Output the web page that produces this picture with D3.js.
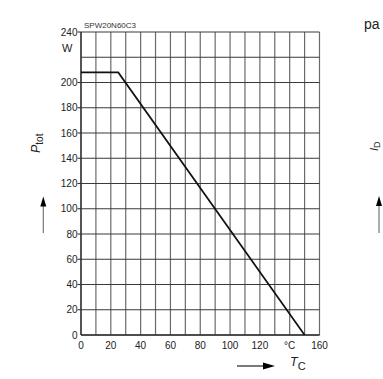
<!DOCTYPE html>
<html><head><meta charset="utf-8">
<script src="https://cdn.jsdelivr.net/npm/d3@7"></script>
<style>html,body{margin:0;padding:0;background:#fff;}svg{display:block;}</style>
</head><body>
<script>
const tempC = [0, 25, 150];
const powerW = [208, 208, 0];
const xTicks = [0, 20, 40, 60, 80, 100, 120, 140, 160];
const xTickLabels = ["0", "20", "40", "60", "80", "100", "120", "°C", "160"];
const yTicks = [0, 20, 40, 60, 80, 100, 120, 140, 160, 180, 200, 240];
const xGrid = d3.range(0, 161, 10);
const yGrid = d3.range(0, 241, 20);

const W = 383, H = 379;
const svg = d3.select("body").append("svg").attr("width", W).attr("height", H);
const font = "'Liberation Sans', Arial, sans-serif";
const x = d3.scaleLinear().domain([0, 160]).range([81, 319.5]);
const y = d3.scaleLinear().domain([0, 240]).range([335, 32]);

const g = svg.append("g");
g.selectAll(".vg").data(xGrid).enter().append("line")
  .attr("x1", d => x(d)).attr("x2", d => x(d)).attr("y1", y(0)).attr("y2", y(240))
  .attr("stroke", "#6a6a6a").attr("stroke-width", 1.2);
g.selectAll(".hg").data(yGrid).enter().append("line")
  .attr("x1", x(0)).attr("x2", x(160)).attr("y1", d => y(d)).attr("y2", d => y(d))
  .attr("stroke", "#3a3a3a").attr("stroke-width", 1.1);
// axes lines
g.append("line").attr("x1", x(0)).attr("x2", x(0)).attr("y1", y(0)).attr("y2", y(240)).attr("stroke", "#333").attr("stroke-width", 1.4);
g.append("line").attr("x1", x(0)).attr("x2", x(160)).attr("y1", y(0)).attr("y2", y(0)).attr("stroke", "#333").attr("stroke-width", 1.4);
// y tick marks
g.selectAll(".yt").data(yTicks.filter(d => d > 0)).enter().append("line")
  .attr("x1", x(0) - 3.5).attr("x2", x(0)).attr("y1", d => y(d)).attr("y2", d => y(d))
  .attr("stroke", "#333").attr("stroke-width", 1.1);

// y labels
g.selectAll(".yl").data(yTicks).enter().append("text")
  .attr("x", 77.5).attr("y", d => y(d) + 3.6)
  .attr("text-anchor", "end").attr("font-family", font).attr("font-size", 10).attr("fill", "#222")
  .text(d => d);
g.append("text").attr("x", 62).attr("y", 52).attr("font-family", font).attr("font-size", 11).attr("fill", "#222").text("W");
// x labels
g.selectAll(".xl").data(xTicks).enter().append("text")
  .attr("x", d => x(d)).attr("y", 348.5)
  .attr("text-anchor", "middle").attr("font-family", font).attr("font-size", 10).attr("fill", "#222")
  .text((d, i) => xTickLabels[i]);

// title
g.append("text").attr("x", 84).attr("y", 28).attr("font-family", font).attr("font-size", 8).attr("fill", "#333").text("SPW20N60C3");

// data line
const line = d3.line().x((d, i) => x(tempC[i])).y(d => y(d));
g.append("path").datum(powerW).attr("d", line).attr("fill", "none").attr("stroke", "#111").attr("stroke-width", 1.7);

// y axis label
const yl = g.append("text").attr("transform", "translate(40,153) rotate(-90)")
  .attr("font-family", font).attr("fill", "#222");
yl.append("tspan").attr("font-size", 12.5).attr("font-style", "italic").text("P");
yl.append("tspan").attr("font-size", 10).attr("dy", 2.5).text("tot");

// arrows
function vArrow(cx, top, bottom) {
  g.append("line").attr("x1", cx).attr("x2", cx).attr("y1", bottom).attr("y2", top + 8).attr("stroke", "#777").attr("stroke-width", 1.2);
  g.append("path").attr("d", `M${cx},${top} L${cx - 3},${top + 10} L${cx + 3},${top + 10} Z`).attr("fill", "#000");
}
vArrow(43.3, 196.5, 233);
vArrow(379, 196, 233);
g.append("line").attr("x1", 237).attr("x2", 266).attr("y1", 366).attr("y2", 366).attr("stroke", "#222").attr("stroke-width", 1.2);
g.append("path").attr("d", "M275,366 L263,362.5 L263,369.5 Z").attr("fill", "#000");

// x axis label
const xl = g.append("text").attr("x", 290).attr("y", 366).attr("font-family", font).attr("fill", "#222");
xl.append("tspan").attr("font-size", 12.5).attr("font-style", "italic").text("T");
xl.append("tspan").attr("font-size", 11).attr("dy", 4).text("C");

// right side fragments
const il = g.append("text").attr("transform", "translate(377.5,151) rotate(-90)").attr("font-family", font).attr("fill", "#222");
il.append("tspan").attr("font-size", 11).attr("font-style", "italic").text("I");
il.append("tspan").attr("font-size", 9).attr("dy", 2).text("D");
g.append("text").attr("x", 364).attr("y", 29).attr("font-family", font).attr("font-size", 14).attr("fill", "#222").text("pa");
</script>
</body></html>
